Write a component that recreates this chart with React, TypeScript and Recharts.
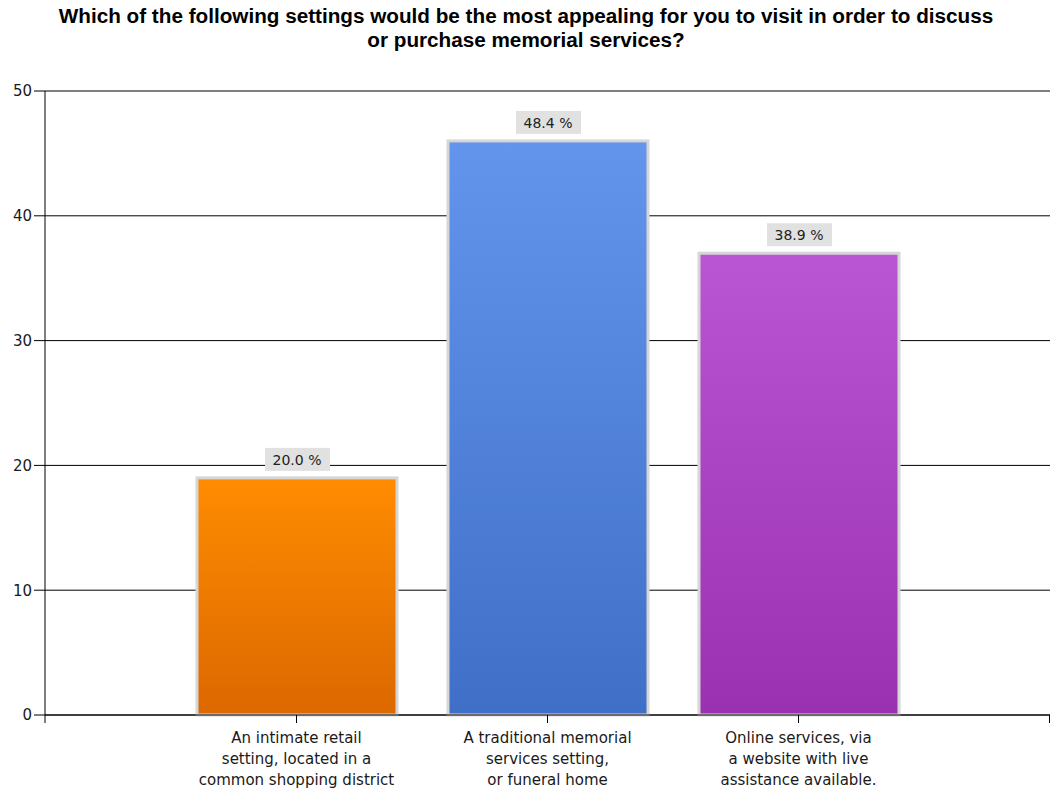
import { BarChart, Bar, XAxis, YAxis, CartesianGrid, LabelList, Customized } from "recharts";

const categories = [
  "An intimate retail|setting, located in a|common shopping district",
  "A traditional memorial|services setting,|or funeral home",
  "Online services, via|a website with live|assistance available.",
];
const counts = [19, 46, 37];
const percentLabels = ["20.0 %", "48.4 %", "38.9 %"];
const yTicks = [0, 10, 20, 30, 40, 50];
const barColors = [
  ["#ff8c00", "#dc6800"],
  ["#6495ed", "#3f6fc6"],
  ["#ba55d3", "#9a31b0"],
];

const data = categories.map((name, i) => ({ name, value: counts[i], label: percentLabels[i] }));

const W = 1052;
const H = 791;
const margin = { top: 91, right: 2, bottom: 0, left: 0 };
const TITLE_FONT = "'Liberation Sans', Arial, sans-serif";
const FONT = "'DejaVu Sans', Verdana, sans-serif";

const CategoryTick = ({ x, y, payload }: any) => {
  const lines = String(payload.value).split("|");
  return (
    <text x={x} y={y + 18} textAnchor="middle" fontFamily={FONT} fontSize={15} fill="#1a1a1a">
      {lines.map((l, i) => (
        <tspan key={i} x={x} dy={i === 0 ? 0 : 21}>{l}</tspan>
      ))}
    </text>
  );
};

const PercentLabel = ({ x, y, width, index }: any) => {
  const cx = x + width / 2;
  const txt = percentLabels[index];
  return (
    <g>
      <rect x={cx - 32} y={y - 30} width={65} height={23} fill="#e1e1e1" />
      <text x={cx} y={y - 13} textAnchor="middle" fontFamily={FONT} fontSize={14} fill="#222">{txt}</text>
    </g>
  );
};

const EdgeTicks = () => {
  const bottomY = H - 76;
  return (
    <g stroke="#000" strokeWidth={1}>
      <line x1={45} y1={bottomY} x2={45} y2={bottomY + 8} />
      <line x1={W - margin.right - 0.5} y1={bottomY} x2={W - margin.right - 0.5} y2={bottomY + 8} />
    </g>
  );
};

export default function App() {
  return (
    <div style={{ position: "absolute", left: 0, top: 0, width: W, height: H, background: "#fff" }}>
      <div
        style={{
          position: "absolute",
          left: 0,
          top: 4,
          width: W,
          textAlign: "center",
          fontFamily: TITLE_FONT,
          fontWeight: "bold",
          fontSize: 20.7,
          lineHeight: "24px",
          color: "#000",
        }}
      >
        Which of the following settings would be the most appealing for you to visit in order to discuss
        <br />
        or purchase memorial services?
      </div>
      <BarChart width={W} height={H} data={data} margin={margin} barCategoryGap={0}>
        <defs>
          {barColors.map((c, i) => (
            <linearGradient key={i} id={`grad${i}`} x1="0" y1="0" x2="0" y2="1">
              <stop offset="0%" stopColor={c[0]} />
              <stop offset="100%" stopColor={c[1]} />
            </linearGradient>
          ))}
        </defs>
        <CartesianGrid horizontal vertical={false} stroke="#000" strokeWidth={1} />
        <XAxis
          dataKey="name"
          interval={0}
          height={76}
          padding={{ left: 126, right: 126 }}
          axisLine={{ stroke: "#000" }}
          tickLine={{ stroke: "#000" }}
          tickSize={8}
          tick={<CategoryTick />}
        />
        <YAxis
          domain={[0, 50]}
          ticks={yTicks}
          width={45}
          axisLine={{ stroke: "#000" }}
          tickLine={{ stroke: "#000" }}
          tickSize={11}
          tickMargin={2}
          tick={{ fill: "#1a1a1a", fontSize: 15, fontFamily: FONT }}
        />
        <Bar
          dataKey="value"
          barSize={200}
          isAnimationActive={false}
          shape={(p: any) => (
            <rect x={p.x} y={p.y} width={p.width} height={p.height} fill={`url(#grad${p.index})`} stroke="#d6d6d6" strokeWidth={3} />
          )}
        >
          <LabelList dataKey="label" content={<PercentLabel />} />
        </Bar>
        <Customized component={<EdgeTicks />} />
      </BarChart>
    </div>
  );
}
